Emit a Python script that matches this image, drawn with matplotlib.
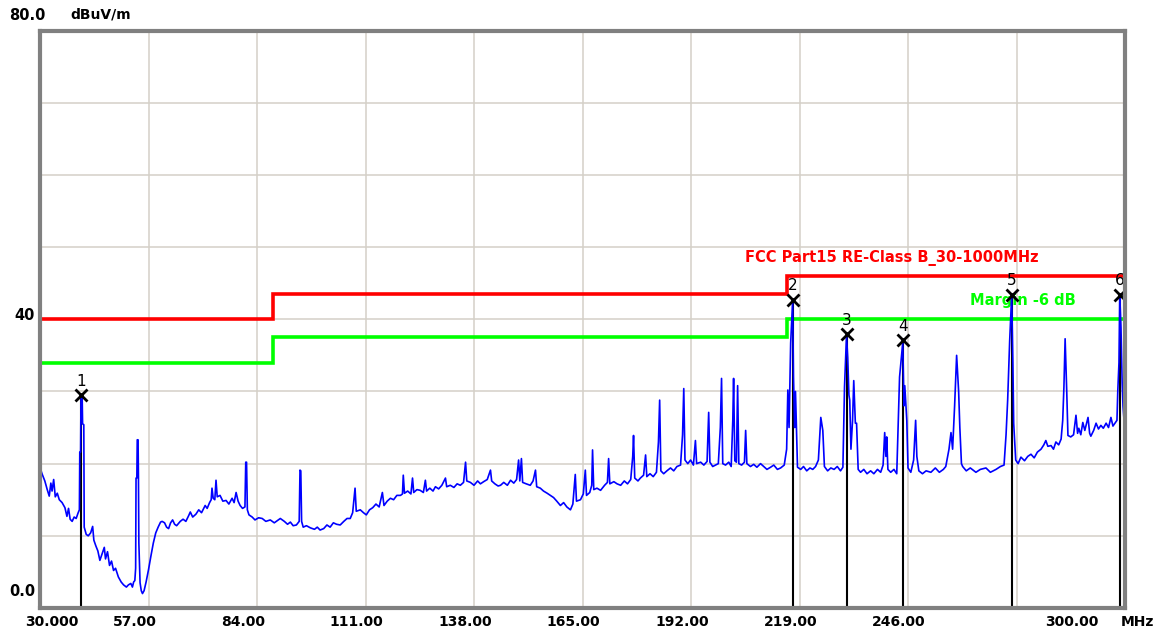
import matplotlib
matplotlib.use("Agg")
import matplotlib.pyplot as plt
from matplotlib.transforms import offset_copy

# ---------------- data ----------------
trace = [
    (30.0, 19.5), (30.5, 18.6), (31.2, 17.6), (31.8, 16.4), (32.3, 15.5), (32.7, 17.3), (33.0, 16.2),
    (33.4, 17.8), (33.8, 15.4), (34.3, 15.9), (34.8, 15.0), (35.5, 14.6), (36.2, 13.9), (36.7, 12.7),
    (37.1, 13.8), (37.5, 12.3), (38.0, 12.0), (38.5, 12.6), (39.0, 12.4), (39.5, 13.2), (39.8, 13.6),
    (39.9, 21.6), (40.1, 21.6), (40.2, 29.3), (40.5, 29.0), (40.6, 25.5), (40.9, 25.4), (41.0, 11.2),
    (41.5, 10.2), (42.0, 10.0), (42.6, 10.4), (43.1, 11.3), (43.4, 9.4), (43.9, 8.6), (44.4, 7.9),
    (44.9, 6.6), (45.5, 7.6), (46.0, 8.4), (46.3, 6.8), (46.8, 7.8), (47.3, 5.9), (47.8, 6.5),
    (48.3, 5.2), (48.8, 5.5), (49.5, 4.3), (50.2, 3.6), (50.8, 3.2), (51.5, 2.9), (52.0, 3.2),
    (52.6, 3.4), (53.0, 2.9), (53.3, 3.6), (53.6, 3.8), (53.8, 5.5), (53.9, 18.0), (54.1, 18.0),
    (54.2, 23.3), (54.4, 23.3), (54.5, 18.0), (54.6, 9.0), (54.9, 3.5), (55.2, 2.4), (55.5, 2.0),
    (55.9, 2.4), (56.4, 3.6), (57.0, 5.3), (57.6, 7.2), (58.2, 9.0), (58.8, 10.4), (59.4, 11.2),
    (60.0, 11.9), (60.4, 12.0), (61.0, 11.8), (61.5, 11.2), (62.0, 11.0), (62.5, 11.8), (63.0, 12.2),
    (63.5, 11.6), (64.0, 11.4), (64.9, 12.0), (65.6, 12.3), (66.3, 12.0), (67.0, 12.8), (67.4, 13.3),
    (68.0, 12.6), (68.8, 13.0), (69.5, 13.6), (70.2, 13.2), (71.1, 14.2), (71.6, 13.8), (72.2, 14.6),
    (72.6, 15.0), (72.8, 16.6), (73.1, 15.2), (73.5, 15.0), (73.8, 17.7), (74.1, 15.4), (74.8, 15.6),
    (75.5, 14.8), (76.3, 14.9), (77.0, 14.4), (77.8, 15.2), (78.3, 14.6), (78.8, 16.0), (79.3, 14.8),
    (79.8, 14.2), (80.4, 13.8), (81.0, 14.0), (81.2, 20.2), (81.4, 20.2), (81.6, 13.6), (82.0, 12.9),
    (82.8, 12.6), (83.5, 12.2), (84.4, 12.5), (85.3, 12.4), (86.2, 12.0), (87.3, 12.2), (88.3, 11.8),
    (89.8, 12.4), (90.8, 12.0), (91.6, 11.6), (92.3, 11.9), (93.0, 11.4), (93.8, 11.5), (94.5, 12.0),
    (94.7, 19.1), (94.9, 19.0), (95.1, 12.0), (95.5, 11.2), (96.3, 11.4), (97.3, 11.1), (98.3, 10.9),
    (99.0, 11.2), (99.7, 10.8), (100.6, 11.0), (101.4, 11.5), (102.2, 11.2), (103.0, 11.8), (103.8, 11.6),
    (104.7, 11.5), (105.6, 12.0), (106.4, 12.4), (107.2, 12.4), (107.8, 13.2), (108.4, 16.6), (108.7, 13.4),
    (109.7, 13.6), (110.5, 13.2), (111.2, 12.9), (112.0, 13.6), (112.8, 13.9), (113.6, 14.4), (114.4, 14.0),
    (115.2, 16.0), (115.6, 14.2), (116.4, 14.8), (117.2, 15.2), (118.0, 15.0), (118.8, 15.6), (119.7, 15.6),
    (120.2, 15.8), (120.4, 18.4), (120.7, 15.9), (121.5, 16.2), (122.3, 15.8), (122.7, 18.0), (123.0, 16.0),
    (123.8, 16.4), (124.6, 16.3), (125.4, 16.0), (125.9, 17.7), (126.2, 16.2), (127.0, 16.6), (127.8, 16.2),
    (128.4, 16.8), (129.2, 16.5), (130.0, 17.0), (130.9, 18.0), (131.2, 16.8), (132.1, 17.0), (133.0, 16.7),
    (133.8, 17.2), (134.6, 17.0), (135.4, 17.4), (135.9, 20.2), (136.2, 17.6), (137.1, 17.4), (138.0, 17.0),
    (138.9, 17.6), (139.6, 17.2), (140.4, 17.5), (141.3, 17.8), (142.1, 19.1), (142.4, 17.6), (143.2, 17.2),
    (144.0, 16.9), (144.6, 17.0), (145.4, 17.4), (146.3, 17.0), (147.1, 17.7), (147.9, 17.3), (148.6, 17.8),
    (149.1, 20.5), (149.4, 17.6), (149.8, 20.7), (150.1, 17.4), (151.0, 17.2), (152.0, 17.0), (152.7, 17.6),
    (153.3, 19.1), (153.6, 16.8), (154.5, 16.6), (155.3, 16.2), (156.2, 15.9), (157.0, 15.6), (157.8, 15.3),
    (158.6, 14.8), (159.5, 14.2), (160.3, 14.6), (161.1, 14.0), (162.0, 13.6), (162.6, 14.4), (163.2, 18.5),
    (163.5, 14.8), (164.5, 15.0), (165.2, 15.8), (165.7, 19.1), (166.0, 15.6), (166.8, 16.0), (167.3, 17.0),
    (167.5, 21.9), (167.8, 16.4), (168.6, 16.6), (169.5, 16.3), (170.5, 17.0), (171.2, 17.4), (171.5, 20.7),
    (171.8, 17.2), (172.8, 17.5), (173.6, 17.2), (174.5, 17.0), (175.4, 17.6), (176.2, 17.2), (177.0, 17.8),
    (177.5, 21.0), (177.7, 23.9), (178.0, 18.0), (178.8, 17.6), (179.4, 18.0), (180.2, 18.4), (180.7, 21.2),
    (181.0, 18.2), (181.8, 18.6), (182.6, 18.2), (183.4, 18.8), (183.9, 23.0), (184.2, 28.8), (184.5, 19.0),
    (185.2, 18.6), (186.0, 19.0), (186.9, 19.4), (187.7, 19.0), (188.5, 19.6), (189.4, 19.8), (189.9, 24.0),
    (190.2, 30.4), (190.5, 20.5), (191.2, 20.0), (191.9, 20.5), (192.6, 19.8), (193.1, 23.2), (193.4, 20.0),
    (194.4, 20.2), (195.2, 19.8), (196.0, 20.3), (196.4, 27.1), (196.7, 20.2), (197.4, 19.6), (198.1, 19.8),
    (198.8, 20.0), (199.3, 25.0), (199.6, 31.8), (199.9, 20.0), (200.6, 19.8), (201.4, 20.2), (202.0, 19.6),
    (202.4, 26.0), (202.6, 31.8), (202.9, 20.4), (203.3, 20.2), (203.6, 30.8), (203.9, 20.0), (204.6, 19.8),
    (205.3, 20.2), (205.6, 24.6), (205.9, 20.0), (206.8, 19.6), (207.6, 19.9), (208.4, 19.5), (209.3, 20.0),
    (210.1, 19.6), (210.9, 19.2), (211.8, 19.5), (212.6, 19.8), (213.5, 19.2), (214.3, 19.4), (215.2, 19.8),
    (215.8, 22.0), (216.1, 30.2), (216.4, 25.0), (216.8, 36.7), (217.3, 42.6), (217.5, 32.0), (217.8, 25.0),
    (218.0, 30.0), (218.5, 19.5), (219.3, 19.2), (220.0, 19.6), (220.8, 19.0), (221.6, 19.4), (222.3, 19.2),
    (223.0, 19.6), (223.7, 20.5), (224.3, 26.4), (224.8, 24.6), (225.2, 19.6), (226.0, 19.0), (226.8, 19.4),
    (227.6, 19.2), (228.4, 19.6), (229.2, 19.0), (229.8, 19.5), (230.2, 30.6), (230.7, 37.8), (231.0, 34.7),
    (231.3, 29.5), (231.5, 28.8), (231.8, 22.0), (232.2, 26.0), (232.5, 31.5), (232.9, 25.6), (233.2, 25.6),
    (233.6, 19.2), (234.2, 18.8), (235.0, 19.2), (235.8, 18.6), (236.7, 19.0), (237.5, 18.6), (238.4, 19.2),
    (239.2, 18.8), (239.8, 19.8), (240.2, 24.3), (240.5, 21.0), (240.7, 23.7), (241.0, 19.2), (241.7, 18.8),
    (242.5, 19.2), (243.2, 18.6), (243.6, 26.0), (243.9, 32.0), (244.7, 36.8), (245.0, 28.0), (245.2, 30.8),
    (245.7, 26.0), (246.0, 19.4), (246.7, 18.8), (247.4, 20.5), (247.9, 26.0), (248.2, 21.0), (248.7, 19.0),
    (249.6, 18.6), (250.5, 19.0), (251.7, 18.8), (252.8, 19.4), (253.8, 18.8), (254.8, 19.2), (255.4, 19.6),
    (256.2, 22.0), (256.7, 24.3), (257.1, 22.0), (257.6, 28.0), (258.1, 35.0), (258.6, 30.0), (258.9, 25.0),
    (259.3, 20.0), (259.6, 19.6), (260.5, 19.0), (261.5, 19.4), (262.9, 18.8), (264.0, 19.2), (265.4, 19.4),
    (266.5, 18.8), (267.9, 19.2), (269.0, 19.6), (269.9, 19.8), (270.4, 24.0), (270.8, 28.8), (271.3, 37.0),
    (271.8, 43.3), (272.1, 34.0), (272.3, 25.6), (272.8, 20.5), (273.4, 20.0), (274.1, 20.9), (275.0, 20.4),
    (275.8, 21.0), (276.6, 21.3), (277.4, 20.8), (278.2, 21.6), (279.1, 22.0), (279.8, 22.6), (280.3, 23.2),
    (280.8, 22.4), (281.6, 22.5), (282.2, 22.0), (282.8, 23.0), (283.5, 22.6), (284.1, 23.4), (284.5, 26.0),
    (284.8, 30.6), (285.1, 37.3), (285.5, 30.0), (285.8, 23.9), (286.5, 23.7), (287.2, 24.0), (287.8, 26.7),
    (288.2, 24.2), (288.5, 24.9), (289.0, 24.0), (289.5, 25.7), (290.0, 24.6), (290.8, 26.4), (291.2, 24.2),
    (291.5, 23.8), (292.2, 24.6), (292.8, 25.6), (293.4, 24.8), (294.0, 25.3), (294.6, 24.9), (295.3, 25.6),
    (295.9, 25.0), (296.5, 26.4), (297.0, 25.2), (297.5, 25.6), (298.0, 26.0), (298.2, 30.0), (298.5, 34.0),
    (298.7, 43.3), (299.0, 38.9), (299.3, 31.1), (299.5, 28.0), (299.8, 25.7), (300.0, 25.6),
]
trace_freq = [p[0] for p in trace]
trace_level = [p[1] for p in trace]

limit_edges = [30, 88, 216, 300]
limit_levels = [40.0, 43.5, 46.0]
margin_levels = [34.0, 37.5, 40.0]

marker_ids = ["1", "2", "3", "4", "5", "6"]
marker_freq = [40.2, 217.3, 230.7, 244.7, 271.8, 298.7]
marker_level = [29.5, 42.7, 37.9, 37.1, 43.4, 43.4]

xtick_values = [30, 57, 84, 111, 138, 165, 192, 219, 246, 273, 300]
xtick_labels = ["30.000", "57.00", "84.00", "111.00", "138.00", "165.00",
                "192.00", "219.00", "246.00", "", "300.00"]
ygrid_values = [10, 20, 30, 40, 50, 60, 70]

# ---------------- figure ----------------
W, H, DPI = 1167, 634, 100
fig = plt.figure(figsize=(W / DPI, H / DPI), dpi=DPI)
fig.patch.set_facecolor("white")
ax = fig.add_axes([40 / W, (H - 608) / H, (1125 - 40) / W, (608 - 30.5) / H])
ax.set_xlim(30, 300)
ax.set_ylim(0, 80)
ax.set_xticks([])
ax.set_yticks([])

gridc = "#d4d0c8"
for xv in xtick_values[1:-1]:
    ax.axvline(xv, color=gridc, lw=1.1, zorder=1)
for yv in ygrid_values:
    ax.axhline(yv, color=gridc, lw=1.1, zorder=1)

for s in ax.spines.values():
    s.set_color("#808080")
    s.set_linewidth(3)
    s.set_zorder(10)

# limit lines
ax.stairs(limit_levels, limit_edges, baseline=None, color="#ff0000", lw=2.6, zorder=3)
ax.stairs(margin_levels, limit_edges, baseline=None, color="#00ff00", lw=2.6, zorder=3)

# marker vertical lines
ax.vlines(marker_freq, 0, marker_level, color="black", lw=1.5, zorder=4)

# trace
ax.plot(trace_freq, trace_level, color="#0000ff", lw=1.2, zorder=5)

# markers
ax.plot(marker_freq, marker_level, linestyle="none", marker="x", color="black",
        markersize=9, mew=2, zorder=6)
for mid, mf, ml in zip(marker_ids, marker_freq, marker_level):
    t = offset_copy(ax.transData, fig=fig, x=0, y=14, units="dots")
    ax.text(mf, ml, mid, transform=t, ha="center", va="center", fontsize=11,
            color="black", zorder=7, family="DejaVu Sans")

# limit labels
ax.text(30 + (891 - 40) / 4.015, 46, "FCC Part15 RE-Class B_30-1000MHz",
        transform=offset_copy(ax.transData, fig=fig, x=0, y=18, units="dots"),
        ha="center", va="center", color="#ff0000", fontsize=10.5, fontweight="bold")
ax.text(30 + (1022 - 40) / 4.015, 40, "Margin -6 dB",
        transform=offset_copy(ax.transData, fig=fig, x=0, y=19, units="dots"),
        ha="center", va="center", color="#00ff00", fontsize=10.5, fontweight="bold")

# x tick labels
xt = ax.get_xaxis_transform()
for v, lab in zip(xtick_values, xtick_labels):
    if not lab:
        continue
    if lab == "30.000":
        dx = -15
    elif lab == "300.00":
        dx = -80
    else:
        dx = -36
    ax.text(v, 0, lab, transform=offset_copy(xt, fig=fig, x=dx, y=-14, units="dots"),
            ha="left", va="center", fontsize=10, fontweight="bold", color="black",
            clip_on=False)
ax.text(1, 0, "MHz", transform=offset_copy(ax.transAxes, fig=fig, x=-4, y=-14, units="dots"),
        ha="left", va="center", fontsize=10, fontweight="bold", clip_on=False)

# y labels
fig.text(9 / W, 1 - 15 / H, "80.0", ha="left", va="center", fontsize=10.5, fontweight="bold")
fig.text(70 / W, 1 - 15 / H, "dBuV/m", ha="left", va="center", fontsize=10, fontweight="bold")
fig.text(35 / W, 1 - 315 / H, "40", ha="right", va="center", fontsize=10.5, fontweight="bold")
fig.text(35 / W, 1 - 592 / H, "0.0", ha="right", va="center", fontsize=10.5, fontweight="bold")

fig.savefig("out.png", dpi=DPI)
